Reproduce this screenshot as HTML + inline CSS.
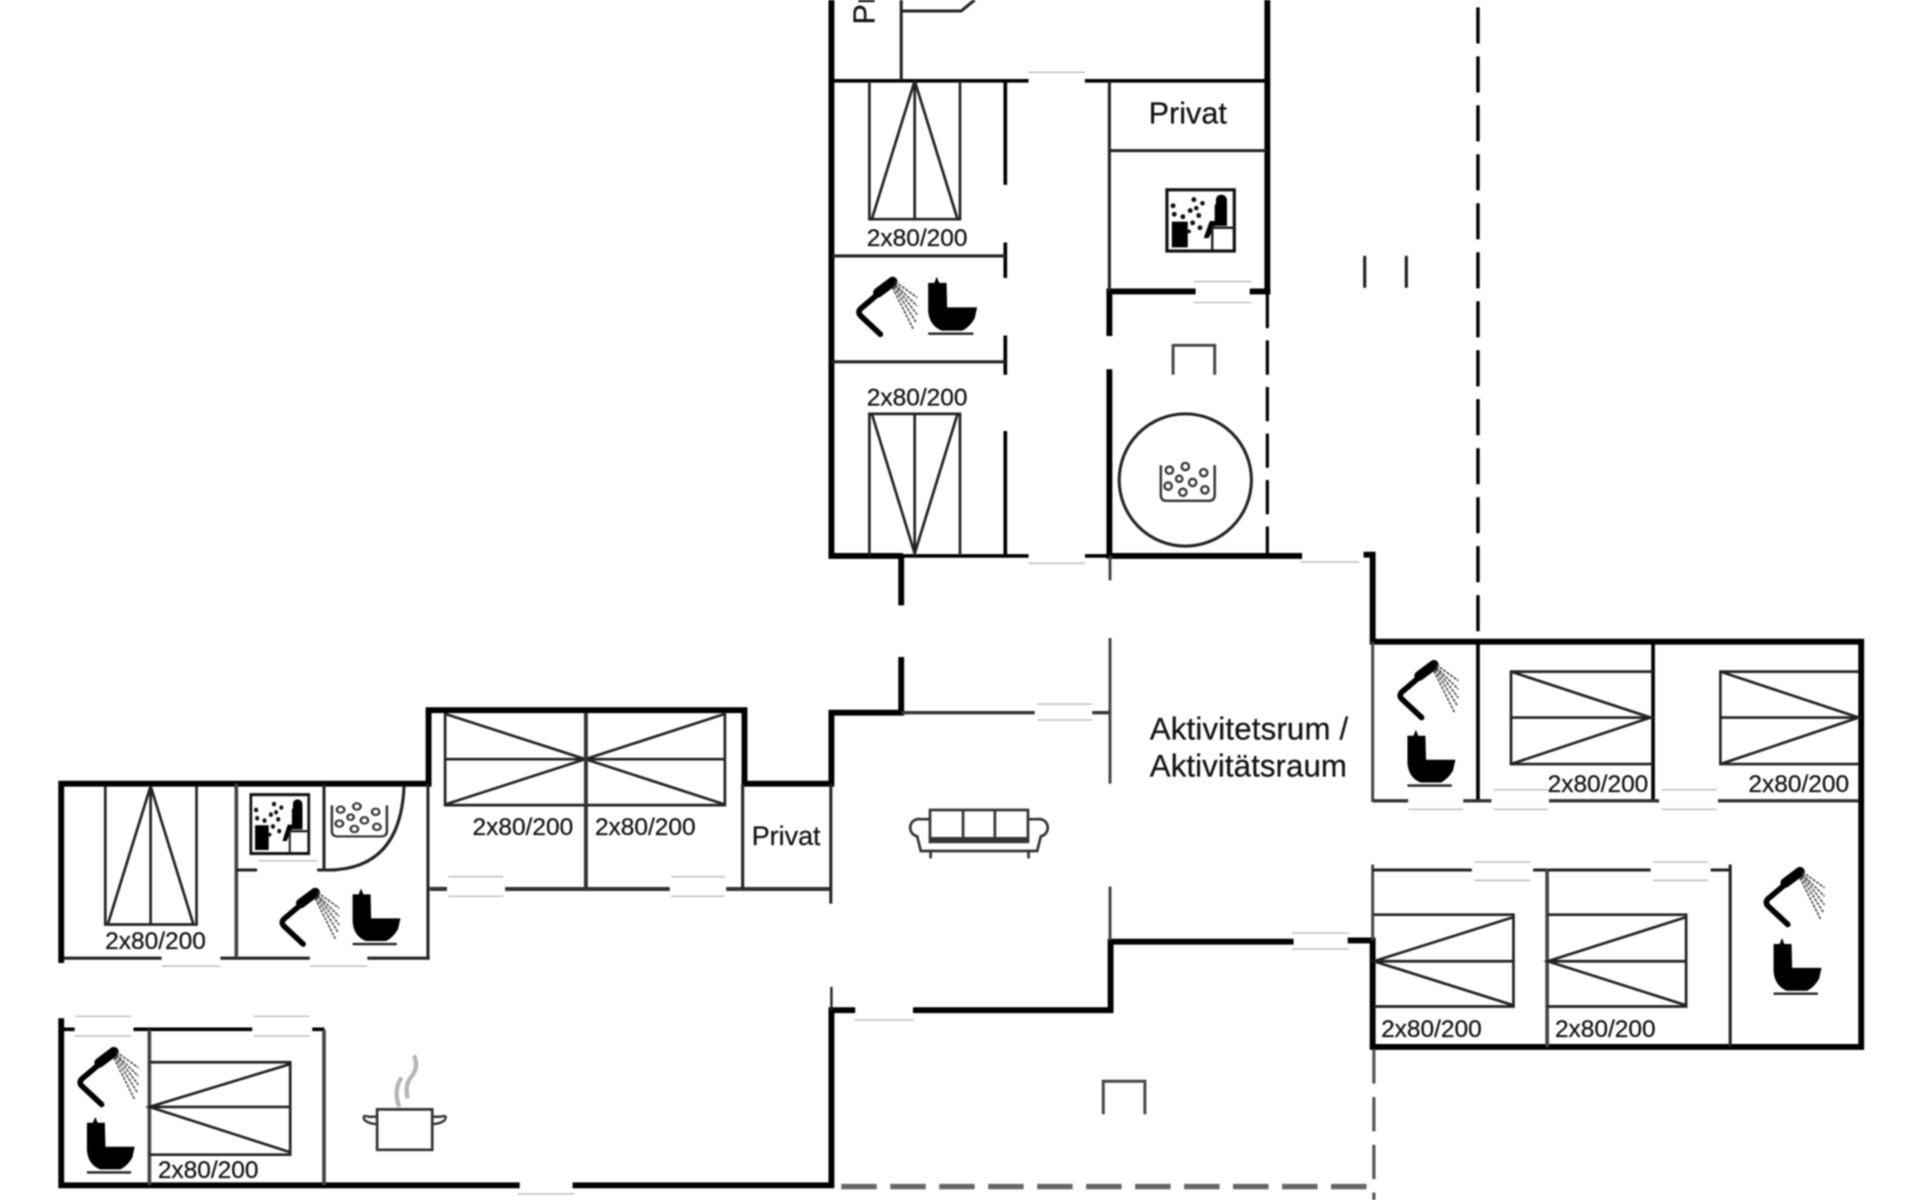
<!DOCTYPE html>
<html lang="da"><head><meta charset="utf-8"><title>Floor plan</title>
<style>
html,body{margin:0;padding:0;background:#fff;width:1920px;height:1200px;overflow:hidden}
svg{display:block;filter:blur(.85px)}
text{font-family:"Liberation Sans",sans-serif;fill:#111;stroke:#111;stroke-width:.2}
.k{stroke:#000;stroke-width:4.8;fill:none;stroke-linecap:square}
.m{stroke:#000;stroke-width:3;fill:none}
.t{stroke:#222;stroke-width:2.5;fill:none}
.g{stroke:#444;stroke-width:2.4;fill:none}
.b{stroke:#222;stroke-width:2.2;fill:none}
.l{stroke:#bdbdbd;stroke-width:1.2;fill:none}
.s{font-size:20px;text-anchor:middle}
.p{font-size:25px;text-anchor:middle}
</style></head><body>
<svg width="1920" height="1200" viewBox="0 0 1568 980" xmlns="http://www.w3.org/2000/svg">
<defs>
<symbol id="sh" viewBox="0 0 50 50" overflow="visible">
<path d="M29 4 L3 26 Q0 29 3 32 L19 47" fill="none" stroke="#000" stroke-width="4.6" stroke-linejoin="round" stroke-linecap="round"/>
<path d="M17 13 L29 4" stroke="#000" stroke-width="8" stroke-linecap="round"/>
<g stroke="#444" stroke-width="1.3" stroke-dasharray="2.5 1" fill="none"><path d="M31 4 L49 17"/><path d="M31 6 L49 24"/><path d="M31 7 L49 31"/><path d="M30 8 L48 37"/><path d="M29 9 L46 43"/></g>
</symbol>
<symbol id="to" viewBox="0 0 42 48" overflow="visible">
<path d="M1 5 L6 5 L8 0 L10 5 L16 5 L16.5 25 L41 25 L39 34 Q35 41 29 44 L12 44 Q2 40 1 28 Z" fill="#000"/>
<path d="M1 46.5 H38" stroke="#222" stroke-width="2"/>
</symbol>
<symbol id="sa" viewBox="0 0 57 52" preserveAspectRatio="none" overflow="visible">
<rect x="1" y="1" width="55" height="50" fill="#fff" stroke="#111" stroke-width="2.6"/>
<rect x="5" y="27" width="13" height="21" fill="#000"/>
<path d="M45 5 a4.5 4.5 0 0 1 5 4.5 v21 h-10 l-5 10 h-4 l5-14 h5 V9 a4 4 0 0 1 4-4z" fill="#000"/>
<rect x="40" y="13" width="10" height="17" fill="#000"/>
<path d="M38 32 H56 M38 32 V50" stroke="#222" stroke-width="2" fill="none"/>
<g fill="#111"><circle cx="6" cy="14" r="2"/><circle cx="7" cy="21" r="2"/><circle cx="14" cy="23" r="2"/><circle cx="20" cy="18" r="2"/><circle cx="23" cy="9" r="2"/><circle cx="30" cy="12" r="1.9"/><circle cx="25" cy="16" r="1.9"/><circle cx="22" cy="28" r="2"/><circle cx="27" cy="22" r="2"/><circle cx="28" cy="32" r="2"/><circle cx="19" cy="35" r="1.6"/></g>
</symbol>
<symbol id="tu" viewBox="0 0 46 32" preserveAspectRatio="none" overflow="visible">
<path d="M1 2 V26 Q1 31 6 31 H40 Q45 31 45 26 V2" fill="none" stroke="#333" stroke-width="2"/>
<g fill="none" stroke="#333" stroke-width="1.9"><circle cx="8" cy="6" r="3"/><circle cx="21" cy="3" r="3"/><circle cx="36" cy="8" r="3"/><circle cx="16" cy="13" r="2.6"/><circle cx="27" cy="16" r="3"/><circle cx="7" cy="19" r="3"/><circle cx="19" cy="24" r="3"/><circle cx="37" cy="22" r="3"/></g>
</symbol>
</defs>

<!-- thick walls -->
<path class="k" d="M679 -4 V454 H735"/>
<path class="k" d="M1035 -4 V238"/>
<path class="k" d="M906 272 V238 H974 M1023 238 H1035"/>
<path class="k" d="M906 304 V454 H1061"/>
<path class="k" d="M1116 453 H1121 V524 H1520 V855 H1121 V768"/>
<path class="k" d="M736 456 V492 M736 539 V582 H679 V640 H608 V580 H350 V640 H50 V784"/>
<path class="k" d="M50 834 V968 H422 M470 968 H679 V825 H696 M748 825 H907 V769 H1054 M1103 768 H1119"/>

<!-- top block -->
<path class="m" d="M679 66 H840 M886 66 H1035"/>
<path class="t" d="M736 -2 V66"/>
<path class="t" d="M736 9 H785 L796 0"/>
<text transform="translate(714,20) rotate(-90)" font-size="25">Privat</text>
<path class="m" d="M735 454 H840 M886 454 H906"/>
<path class="m" d="M821 66 V151 M821 198 V227 M821 274 V306 M821 352 V454"/>
<path class="t" d="M679 209 H821 M679 295.5 H821"/>
<path class="t" d="M906 66 V238 M906 123 H1035"/>
<path class="b" d="M710 66 V179 H784 V66 M747 66 V179 M747 66 L712 179 M747 66 L782 179"/>
<path class="b" d="M710 454 V338 H784 V454 M747 338 V454 M747 452 L712 338 M747 452 L782 338"/>
<text class="s" x="749" y="201">2x80/200</text>
<text class="s" x="749" y="331">2x80/200</text>
<use href="#sh" x="700" y="226" width="50" height="50"/>
<use href="#to" x="757" y="226" width="42" height="48"/>
<text class="p" x="970" y="101">Privat</text>
<use href="#sa" x="952" y="154" width="57" height="52"/>
<path class="g" d="M958 306 V282 H992 V306"/>
<circle class="t" cx="968" cy="392" r="54"/>
<use href="#tu" x="947" y="378" width="46" height="32"/>
<path d="M1035 240 V454" stroke="#000" stroke-width="2.6" stroke-dasharray="28 10" fill="none"/>
<path d="M1207 6 V524" stroke="#000" stroke-width="2.8" stroke-dasharray="29.5 10.5" fill="none"/>
<path d="M1114.5 209 V235 M1148.5 209 V235" stroke="#222" stroke-width="2.6"/>

<!-- central -->
<path class="g" d="M906.5 454 V474 M906.5 521 V640 M906.5 724 V768"/>
<path d="M736 582 H845 M892 582 H906" stroke="#333" stroke-width="2.8" fill="none"/>
<text x="939" y="604" font-size="25.5" textLength="162">Aktivitetsrum /</text>
<text x="939" y="634" font-size="25.5" textLength="161">Aktivitätsraum</text>

<!-- sofa -->
<g class="b" style="stroke:#333">
<rect x="759.5" y="661.5" width="80" height="26"/>
<path d="M786.5 661.5 V687.5 M812.5 661.5 V687.5"/>
<path d="M759.5 685 H839.5" stroke-width="3"/>
<path d="M759.5 669 H752 a7 7 0 0 0 -3 14 L752 695 H847 L850 683 a7 7 0 0 0 -3 -14 H839.5"/>
<path d="M760 695 V701 M840 695 V701"/>
</g>

<!-- east wing -->
<path class="g" d="M1121 524 V655 M1121 706 V768"/>
<path class="m" d="M1207 524 V655 M1350 524 V655"/>
<path d="M1121 654 H1150 M1195 654 H1218 M1265 654 H1355 M1403 654 H1518" stroke="#333" stroke-width="2.8" fill="none"/>
<path class="t" d="M1121 710.5 H1202 M1252 710.5 H1348 M1397 710.5 H1414"/>
<path class="g" style="stroke-width:3" d="M1263.5 710 V855"/>
<path class="t" d="M1413 706 V855"/>
<path class="b" d="M1350 548.5 H1234 V624 H1350 M1234 586 H1350 M1234 548.5 L1348 586 L1234 624"/>
<path class="b" d="M1518 548.5 H1405 V624 H1518 M1405 586 H1518 M1405 548.5 L1518 586 L1405 624"/>
<path class="b" d="M1122 747 H1236 V822 H1122 M1122 785 H1236 M1236 749 L1122 785 L1236 821"/>
<path class="b" d="M1264 747 H1377 V822 H1264 M1264 785 H1377 M1377 749 L1264 785 L1377 821"/>
<text class="s" x="1305" y="647">2x80/200</text>
<text class="s" x="1469" y="647">2x80/200</text>
<text class="s" x="1169" y="847">2x80/200</text>
<text class="s" x="1311" y="847">2x80/200</text>
<use href="#sh" x="1142" y="539" width="50" height="50"/>
<use href="#to" x="1148" y="596" width="42" height="47"/>
<use href="#sh" x="1441" y="708" width="50" height="50"/>
<use href="#to" x="1447" y="766" width="42" height="47"/>

<!-- south dashes -->
<path d="M687 969 H1120" stroke="#666" stroke-width="4.4" stroke-dasharray="29 11" fill="none"/>
<path d="M1122 857 V980" stroke="#555" stroke-width="2.6" stroke-dasharray="28 11" fill="none"/>
<path class="g" d="M901 910 V883 H935 V910"/>
<path d="M679 806 V825" stroke="#222" stroke-width="2"/>

<!-- west wing north -->
<path class="t" d="M52 782.5 H132 M180 782.5 H253 M300 782.5 H351 M349.5 640 V782"/>
<path class="g" style="stroke-width:3" d="M193 640 V782"/>
<path class="t" d="M193 710.5 H210 M259 710.5 H268"/>
<path class="t" d="M264.6 640 V710.5 Q327 712 330 642"/>
<path class="g" d="M351 725.5 H365"/>
<path class="b" d="M86 642 V755 H160.5 V642 M123 642 V755 M123 642 L88 755 M123 642 L158 755"/>
<text class="s" x="127" y="775">2x80/200</text>
<use href="#sa" x="204" y="648" width="49" height="50"/>
<use href="#tu" x="270" y="656" width="47" height="28"/>
<use href="#sh" x="229" y="725" width="49" height="49"/>
<use href="#to" x="287" y="725" width="41" height="48"/>
<path class="b" d="M363.5 582 V657.5 H592 V582 M363.5 620 H592 M363.5 583 L478 620 L363.5 657 M592 583 L478 620 L592 657"/>
<path d="M478.5 582 V726" stroke="#333" stroke-width="3.2" fill="none"/>
<path d="M412.5 726 H547 M593 726 H678 M351 726 H365" stroke="#333" stroke-width="3.2" fill="none"/>
<path class="t" d="M606.5 640 V726 M678.5 640 V738"/>
<text class="s" x="427" y="682">2x80/200</text>
<text class="s" x="527" y="682">2x80/200</text>
<text x="642" y="690" font-size="22" text-anchor="middle">Privat</text>

<!-- west wing south -->
<path class="m" d="M50 840.6 H61 M109 840.6 H206 M255 840.6 H265"/>
<path class="g" style="stroke-width:3" d="M122 841 V968 M264.6 841 V968"/>
<path class="b" d="M122 867.5 H237 V943 H122 M122 904 H237 M237 869 L122 904 L237 941"/>
<text class="s" x="170" y="962">2x80/200</text>
<use href="#sh" x="64" y="855" width="50" height="50"/>
<use href="#to" x="70" y="912" width="41" height="47"/>
<path d="M308 906 H353 V939 H308 Z" fill="none" stroke="#333" stroke-width="2.2"/>
<path d="M308 912 H301 Q295 910 298 915 Q302 918 308 918 M353 912 H360 Q366 910 363 915 Q359 918 353 918" fill="none" stroke="#333" stroke-width="2"/>
<path d="M326 904 Q321 890 328 880 M333 897 Q330 885 337 878 Q342 870 338 862" fill="none" stroke="#b5b5b5" stroke-width="3.5"/>

<!-- faint door jamb lines -->
<path class="l" d="M840 59 H886 M975 230 H1022 M975 247 H1022 M840 460 H886 M1062 459 H1110 M847 575 H892 M847 588 H892 M1150 661 H1195 M1220 645 H1264 M1220 661 H1264 M1357 645 H1402 M1357 661 H1402 M1204 704 H1250 M1204 719 H1250 M1350 704 H1395 M1350 719 H1395 M132 789 H180 M253 789 H300 M366 716 H411 M366 732 H411 M548 716 H592 M548 732 H592 M61 830 H107 M61 846 H107 M207 830 H253 M207 846 H253 M698 833 H746 M423 975 H469 M211 703 H259 M1055 762 H1102 M1055 775 H1102"/>
</svg>
</body></html>
